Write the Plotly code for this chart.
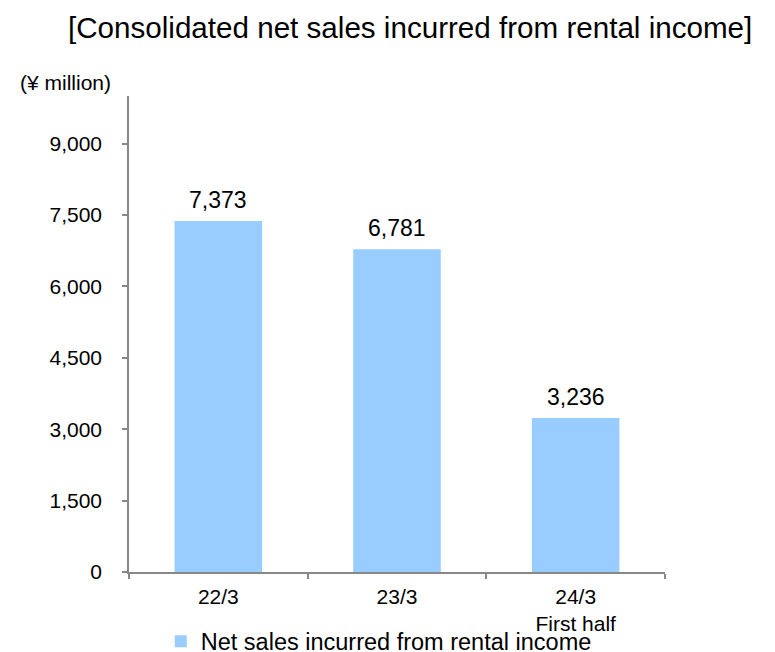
import plotly.graph_objects as go

categories = ["22/3", "23/3", "24/3<br>First half"]
sales = [7373, 6781, 3236]
sales_labels = ["7,373", "6,781", "3,236"]
y_ticks = [0, 1500, 3000, 4500, 6000, 7500, 9000]
y_tick_text = ["0", "1,500", "3,000", "4,500", "6,000", "7,500", "9,000"]

font_family = "Liberation Sans, Arial, sans-serif"
axis_grey = "#888888"

fig = go.Figure()
fig.add_trace(go.Bar(
    x=categories,
    y=sales,
    name="Net sales incurred from rental income",
    marker=dict(color="#99CCFF", line=dict(width=0)),
    width=0.49,
))

# value labels above each bar
for cat, val, lab in zip(categories, sales, sales_labels):
    fig.add_annotation(
        x=cat, y=val, text=lab, showarrow=False,
        xanchor="center", yanchor="bottom", yshift=6,
        font=dict(size=23, color="#000000"),
    )

fig.update_layout(
    width=775,
    height=652,
    margin=dict(l=129, r=110, t=96, b=80, autoexpand=False),
    paper_bgcolor="white",
    plot_bgcolor="white",
    font=dict(family=font_family, color="#000000"),
    showlegend=True,
    legend=dict(
        orientation="h",
        x=0.466, xanchor="center",
        y=-0.146, yanchor="middle",
        font=dict(size=23.5),
        itemwidth=30,
        bgcolor="rgba(0,0,0,0)",
    ),
)

fig.update_xaxes(
    type="category", automargin=False,
    showline=True, linecolor=axis_grey, linewidth=1.5,
    ticks="outside", tickson="boundaries", ticklen=5, tickcolor=axis_grey, tickwidth=1.5,
    tickfont=dict(size=21),
    ticklabelstandoff=5,
    showgrid=False, zeroline=False,
)

fig.update_yaxes(
    range=[0, 10000], automargin=False,
    tickvals=y_ticks, ticktext=y_tick_text,
    showline=True, linecolor=axis_grey, linewidth=1.5,
    ticks="outside", ticklen=5, tickcolor=axis_grey, tickwidth=1.5,
    tickfont=dict(size=21),
    ticklabelstandoff=16,
    showgrid=False, zeroline=False,
)

fig.add_annotation(
    text="[Consolidated net sales incurred from rental income]",
    xref="paper", yref="paper", x=1.166, y=1.0, xanchor="right", yanchor="bottom",
    yshift=50, showarrow=False,
    font=dict(size=29.6),
)

fig.add_annotation(
    text="(¥ million)",
    xref="paper", yref="paper", x=-0.03, y=1.0, xanchor="right", yanchor="bottom",
    yshift=0, showarrow=False,
    font=dict(size=21),
)

fig.write_html("out.html")
